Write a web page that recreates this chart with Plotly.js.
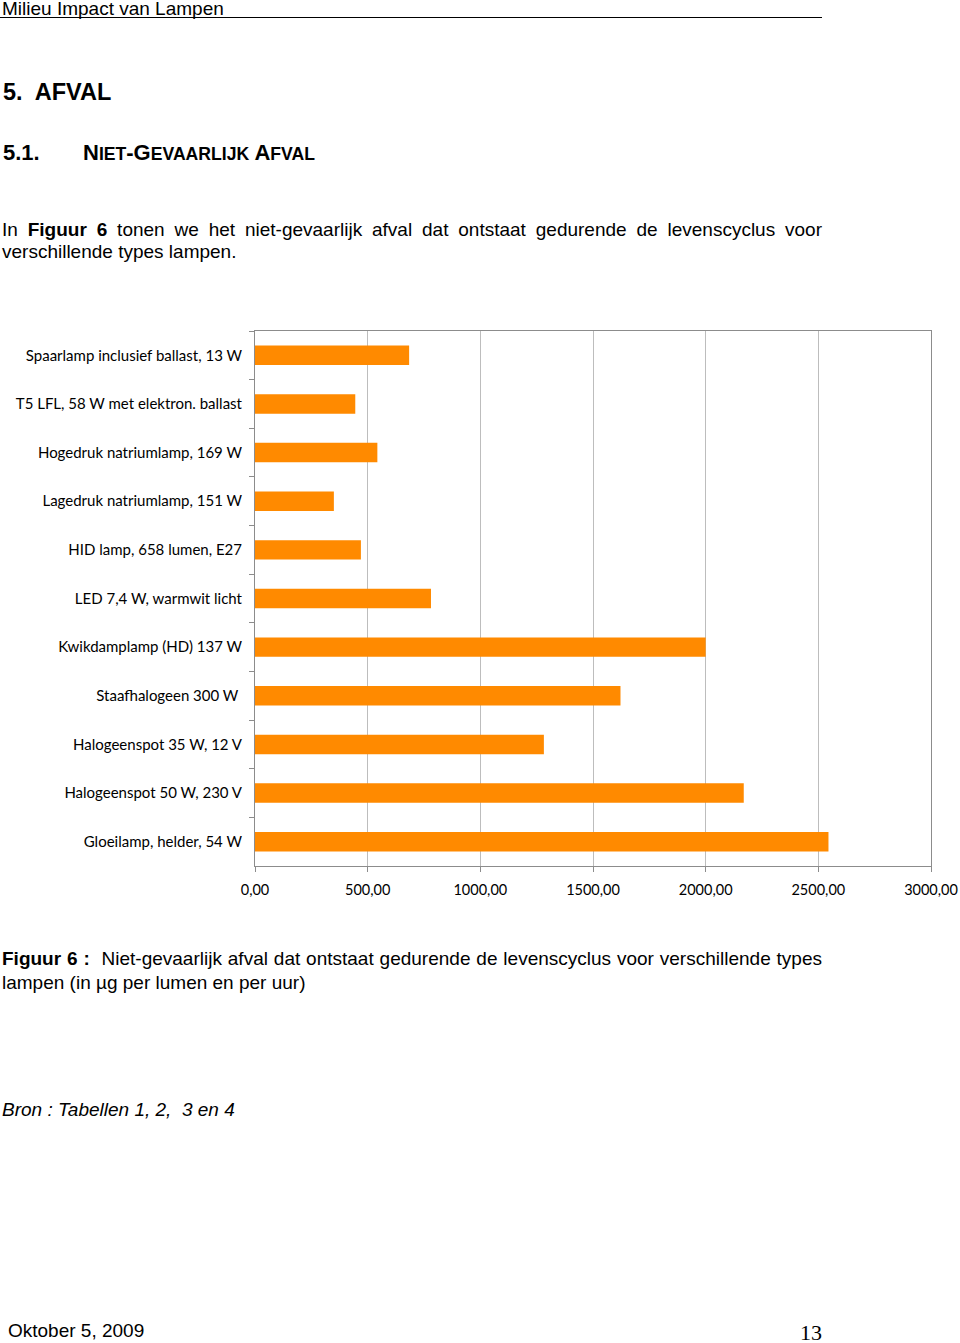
<!DOCTYPE html>
<html>
<head>
<meta charset="utf-8">
<script src="https://cdn.plot.ly/plotly-3.0.1.min.js"></script>
<style>
  body { margin: 0; width: 960px; height: 1343px; background: #fff; position: relative; overflow: hidden;
         font-family: "Liberation Sans", Arial, sans-serif; color: #000; }
  .t { position: absolute; white-space: nowrap; line-height: 1; }
  .sc { font-size: 17.6px; }
  #chart { position: absolute; left: 0; top: 300px; width: 960px; height: 620px; }
</style>
</head>
<body>

<div class="t" style="left:2px; top:-1px; font-size:19px;">Milieu Impact van Lampen</div>
<div style="position:absolute; left:0; top:17px; width:822px; height:0; border-top:1px solid #000;"></div>

<div class="t" style="left:3px; top:81px; font-size:23.5px; font-weight:bold;">5.&nbsp; AFVAL</div>

<div class="t" style="left:3px; top:142px; font-size:22px; font-weight:bold;">5.1.</div>
<div class="t" style="left:83px; top:142px; font-size:22px; font-weight:bold;">N<span class="sc">IET</span>-G<span class="sc">EVAARLIJK</span> A<span class="sc">FVAL</span></div>

<div style="position:absolute; left:2px; top:219px; width:820px; font-size:19px; line-height:22px; text-align:justify;">
  In <b>Figuur 6</b> tonen we het niet-gevaarlijk afval dat ontstaat gedurende de levenscyclus voor verschillende types lampen.
</div>

<div id="chart"></div>

<div style="position:absolute; left:2px; top:947px; width:820px; font-size:19px; line-height:24px; text-align:justify;">
  <b>Figuur 6 :</b>&nbsp; Niet-gevaarlijk afval dat ontstaat gedurende de levenscyclus voor verschillende types lampen (in &micro;g per lumen en per uur)
</div>

<div class="t" style="left:2px; top:1100px; font-size:19px; font-style:italic;">Bron : Tabellen 1, 2,&nbsp; 3 en 4</div>

<div class="t" style="left:8px; top:1321px; font-size:19px;">Oktober 5, 2009</div>
<div class="t" style="left:800px; top:1324px; font-size:22px; line-height:0.8; font-family:'Liberation Serif', 'Times New Roman', serif;">13</div>

<script>
// niet-gevaarlijk afval, µg per lumen en per uur
const lampen = [
    "Spaarlamp inclusief ballast, 13 W",
    "T5 LFL, 58 W met elektron. ballast",
    "Hogedruk natriumlamp, 169 W",
    "Lagedruk natriumlamp, 151 W",
    "HID lamp, 658 lumen, E27",
    "LED 7,4 W, warmwit licht",
    "Kwikdamplamp (HD) 137 W",
    "Staafhalogeen 300 W ",
    "Halogeenspot 35 W, 12 V",
    "Halogeenspot 50 W, 230 V",
    "Gloeilamp, helder, 54 W",
];
const afval = [684, 445, 543, 350, 470, 781, 2000, 1622, 1282, 2169, 2545];
const xTicks = [0, 500, 1000, 1500, 2000, 2500, 3000];

let bars = {
    type: "bar", orientation: "h",
    x: afval, y: lampen,
    marker: {color: "#ff8a00", line: {width: 0}},
    hoverinfo: "skip",
};

let layout = {
    width: 960, height: 620,
    margin: {l: 255, r: 29, t: 31, b: 54},
    paper_bgcolor: "#fff", plot_bgcolor: "#fff",
    separators: ",.",
    showlegend: false,
    bargap: 0.6,
    font: {family: "Lato, 'Open Sans', sans-serif", size: 14, color: "#000"},
    xaxis: {
        range: [0, 3000], tickvals: xTicks, tickformat: ".2f",
        tickfont: {size: 14.5},
        showgrid: true, gridcolor: "#bdbdbd", gridwidth: 1,
        zeroline: false,
        showline: true, linecolor: "#8c8c8c", linewidth: 1, mirror: true,
        ticks: "outside", ticklen: 5, tickcolor: "#8c8c8c",
        ticklabelstandoff: 6,
        fixedrange: true,
    },
    yaxis: {
        type: "category", autorange: "reversed",
        tickfont: {size: 15},
        showgrid: false, zeroline: false,
        showline: true, linecolor: "#8c8c8c", linewidth: 1, mirror: true,
        ticks: "outside", ticklen: 5, tickcolor: "#8c8c8c", tickson: "boundaries",
        ticklabelstandoff: 9,
        fixedrange: true,
    },
};

Plotly.newPlot("chart", [bars], layout, {displayModeBar: false, staticPlot: true});
</script>
</body>
</html>
